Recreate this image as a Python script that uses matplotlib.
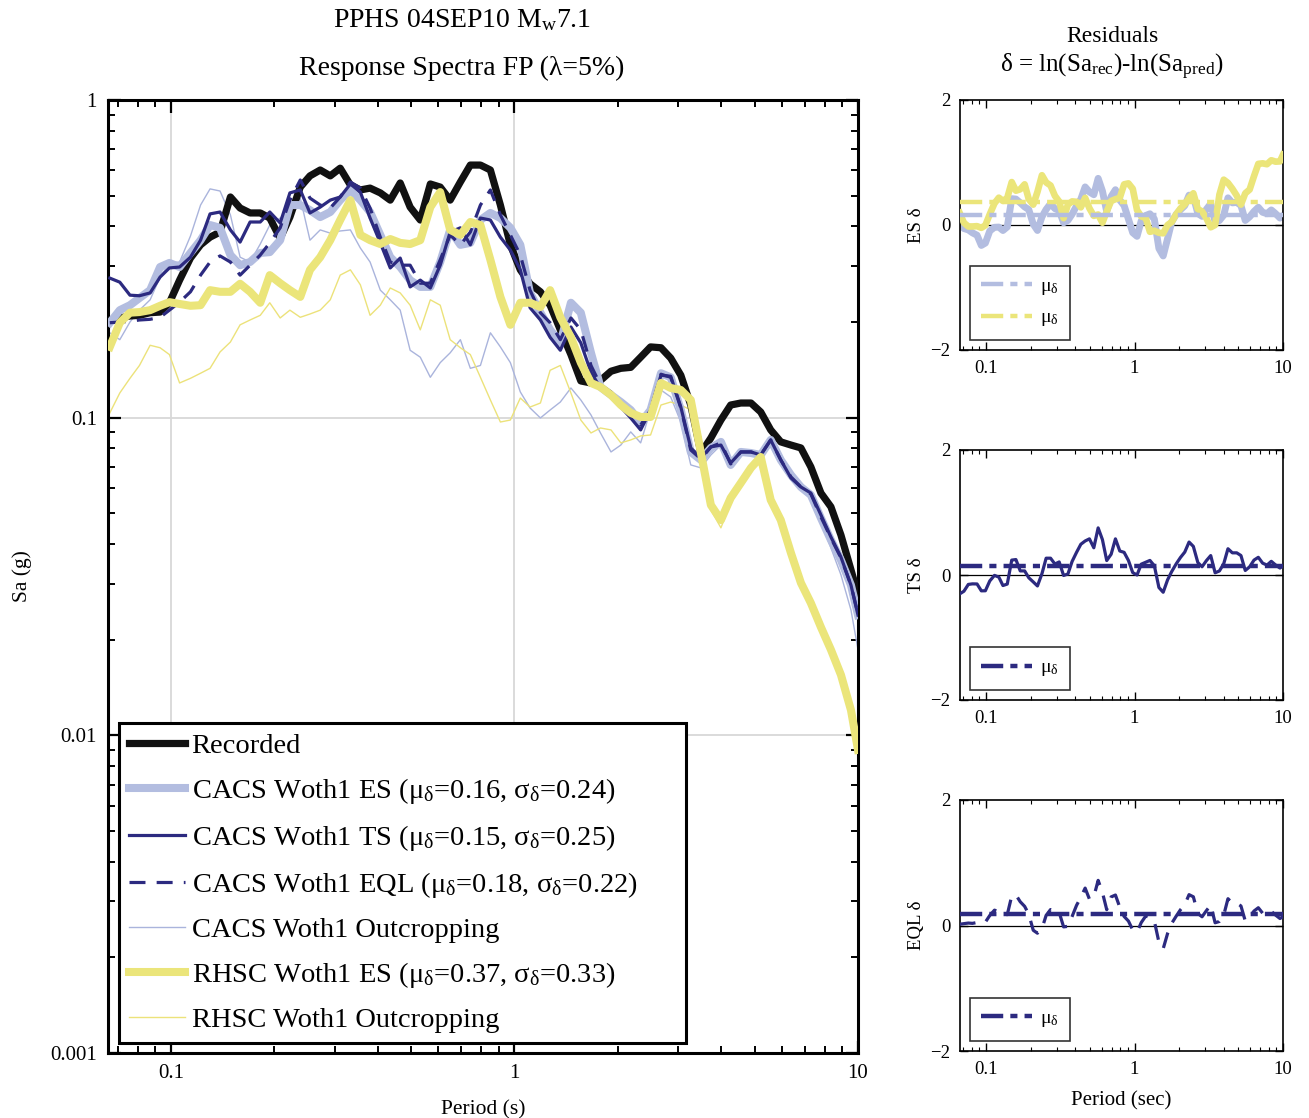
import numpy as np
import matplotlib
matplotlib.use("Agg")
import matplotlib.pyplot as plt
from matplotlib.ticker import NullFormatter, LogLocator

plt.rcParams['font.family'] = ['Liberation Serif', 'DejaVu Serif']
plt.rcParams['mathtext.fontset'] = 'custom'
plt.rcParams['mathtext.rm'] = 'Liberation Serif'
plt.rcParams['mathtext.it'] = 'Liberation Serif'
plt.rcParams['mathtext.bf'] = 'Liberation Serif:bold'
plt.rcParams['axes.unicode_minus'] = True

# ---------------- data ----------------
period = [0.0664, 0.071, 0.076, 0.081, 0.087, 0.093, 0.099, 0.106, 0.114, 0.122,
          0.130, 0.139, 0.149, 0.159, 0.170, 0.182, 0.194, 0.208, 0.222, 0.238,
          0.254, 0.272, 0.291, 0.311, 0.333, 0.356, 0.380, 0.407, 0.435, 0.465,
          0.497, 0.532, 0.569, 0.608, 0.650, 0.696, 0.744, 0.796, 0.851, 0.910,
          0.973, 1.04, 1.11, 1.19, 1.27, 1.36, 1.46, 1.56, 1.67, 1.78,
          1.91, 2.04, 2.18, 2.33, 2.49, 2.67, 2.85, 3.05, 3.26, 3.49,
          3.73, 3.99, 4.26, 4.56, 4.88, 5.21, 5.57, 5.96, 6.38, 6.82,
          7.29, 7.80, 8.34, 8.92, 9.54, 10.0]

recorded = [0.203, 0.206, 0.209, 0.210, 0.214, 0.215, 0.230, 0.271, 0.318, 0.350,
            0.370, 0.384, 0.495, 0.457, 0.441, 0.441, 0.425, 0.367, 0.428, 0.532,
            0.577, 0.602, 0.577, 0.610, 0.540, 0.521, 0.528, 0.510, 0.484, 0.548,
            0.460, 0.419, 0.544, 0.532, 0.484, 0.552, 0.624, 0.624, 0.602, 0.467,
            0.350, 0.292, 0.264, 0.249, 0.226, 0.189, 0.158, 0.1305, 0.1286, 0.131,
            0.140, 0.143, 0.144, 0.155, 0.167, 0.166, 0.154, 0.136, 0.1096, 0.0774,
            0.0863, 0.0983, 0.1096, 0.1112, 0.1112, 0.1042, 0.0915, 0.0839, 0.0820, 0.0803,
            0.0700, 0.0579, 0.0524, 0.0427, 0.0332, 0.0277]

cacs_es = [0.199, 0.218, 0.226, 0.238, 0.252, 0.298, 0.307, 0.298, 0.330, 0.362,
           0.404, 0.396, 0.325, 0.302, 0.309, 0.330, 0.332, 0.362, 0.467, 0.467,
           0.450, 0.428, 0.444, 0.484, 0.521, 0.484, 0.444, 0.376, 0.320, 0.298,
           0.271, 0.258, 0.258, 0.309, 0.390, 0.350, 0.355, 0.419, 0.441, 0.425,
           0.396, 0.350, 0.247, 0.214, 0.189, 0.172, 0.230, 0.214, 0.160, 0.1249,
           0.1179, 0.1120, 0.1057, 0.0962, 0.1057, 0.138, 0.134, 0.1057, 0.0780, 0.0736,
           0.0803, 0.0839, 0.0710, 0.0780, 0.0774, 0.0763, 0.0851, 0.0736, 0.0660, 0.0605,
           0.0571, 0.0483, 0.0412, 0.0356, 0.0297, 0.0239]

cacs_ts = [0.275, 0.267, 0.243, 0.242, 0.247, 0.277, 0.296, 0.298, 0.320, 0.362,
           0.438, 0.444, 0.390, 0.357, 0.413, 0.413, 0.444, 0.410, 0.510, 0.521,
           0.441, 0.460, 0.484, 0.495, 0.544, 0.513, 0.425, 0.355, 0.296, 0.318,
           0.258, 0.271, 0.256, 0.302, 0.384, 0.396, 0.350, 0.425, 0.419, 0.370,
           0.337, 0.292, 0.222, 0.203, 0.179, 0.163, 0.193, 0.172, 0.139, 0.1240,
           0.1170, 0.1080, 0.0998, 0.0915, 0.1057, 0.136, 0.135, 0.1080, 0.0803, 0.0747,
           0.0809, 0.0820, 0.0720, 0.0780, 0.0780, 0.0763, 0.0851, 0.0736, 0.0646, 0.0605,
           0.0579, 0.0494, 0.0421, 0.0364, 0.0297, 0.0239]

cacs_eql = [0.199, 0.200, 0.201, 0.203, 0.204, 0.207, 0.218, 0.231, 0.249, 0.281,
            0.309, 0.323, 0.309, 0.281, 0.302, 0.325, 0.355, 0.396, 0.484, 0.560,
            0.491, 0.467, 0.457, 0.495, 0.552, 0.528, 0.457, 0.370, 0.309, 0.302,
            0.302, 0.265, 0.265, 0.314, 0.376, 0.350, 0.384, 0.467, 0.521, 0.435,
            0.376, 0.325, 0.252, 0.214, 0.199, 0.176, 0.206, 0.189, 0.146, 0.1267,
            0.1205, 0.1112, 0.1035, 0.0948, 0.1057, 0.137, 0.134, 0.1073, 0.0791, 0.0741,
            0.0809, 0.0833, 0.0715, 0.0780, 0.0780, 0.0763, 0.0851, 0.0736, 0.0651, 0.0605,
            0.0575, 0.0487, 0.0418, 0.0362, 0.0297, 0.0241]

cacs_outcrop = [0.185, 0.176, 0.200, 0.218, 0.235, 0.277, 0.307, 0.309, 0.373, 0.467,
                0.525, 0.517, 0.435, 0.320, 0.309, 0.352, 0.404, 0.425, 0.450, 0.491,
                0.362, 0.390, 0.381, 0.387, 0.390, 0.342, 0.309, 0.252, 0.235, 0.218,
                0.163, 0.155, 0.134, 0.149, 0.160, 0.176, 0.143, 0.146, 0.185, 0.167,
                0.149, 0.1205, 0.1073, 0.0998, 0.1057, 0.1120, 0.1240, 0.1137, 0.1020, 0.0895,
                0.0780, 0.0820, 0.0902, 0.0833, 0.1057, 0.1222, 0.1162, 0.0969, 0.0710, 0.0695,
                0.0763, 0.0820, 0.0695, 0.0763, 0.0763, 0.0747, 0.0839, 0.0710, 0.0637, 0.0592,
                0.0559, 0.0469, 0.0389, 0.0320, 0.0248, 0.0186]

rhsc_es = [0.167, 0.199, 0.214, 0.215, 0.218, 0.225, 0.231, 0.228, 0.225, 0.226,
           0.252, 0.249, 0.249, 0.264, 0.249, 0.230, 0.281, 0.265, 0.252, 0.240,
           0.292, 0.320, 0.362, 0.419, 0.484, 0.376, 0.362, 0.352, 0.365, 0.355,
           0.352, 0.362, 0.460, 0.513, 0.390, 0.376, 0.413, 0.404, 0.314, 0.240,
           0.196, 0.230, 0.230, 0.223, 0.252, 0.207, 0.179, 0.149, 0.1286, 0.1249,
           0.1179, 0.1096, 0.1035, 0.1005, 0.1005, 0.1286, 0.1240, 0.1222, 0.1137, 0.0774,
           0.0531, 0.0476, 0.0559, 0.0623, 0.0695, 0.0752, 0.0551, 0.0476, 0.0375, 0.0302,
           0.0261, 0.0219, 0.0186, 0.0155, 0.0120, 0.0090]

rhsc_outcrop = [0.1035, 0.1196, 0.133, 0.146, 0.169, 0.166, 0.158, 0.1286, 0.133, 0.138,
                0.143, 0.161, 0.173, 0.196, 0.203, 0.210, 0.230, 0.206, 0.218, 0.207,
                0.212, 0.218, 0.235, 0.281, 0.292, 0.262, 0.210, 0.226, 0.256, 0.247,
                0.226, 0.189, 0.235, 0.226, 0.176, 0.166, 0.158, 0.134, 0.1137, 0.0969,
                0.0983, 0.1153, 0.1080, 0.1112, 0.141, 0.146, 0.1196, 0.0983, 0.0895, 0.0928,
                0.0915, 0.0833, 0.0851, 0.0876, 0.0882, 0.1096, 0.1120, 0.1096, 0.1057, 0.0747,
                0.0512, 0.0450, 0.0539, 0.0605, 0.0685, 0.0736, 0.0543, 0.0469, 0.0370, 0.0297,
                0.0257, 0.0218, 0.0183, 0.0152, 0.0119, 0.0087]

mu_cacs_es, sig_cacs_es = 0.16, 0.24
mu_cacs_ts, sig_cacs_ts = 0.15, 0.25
mu_cacs_eql, sig_cacs_eql = 0.18, 0.22
mu_rhsc_es, sig_rhsc_es = 0.37, 0.33

main_yticks = [0.001, 0.01, 0.1, 1]
main_yticklabels = ['0.001', '0.01', '0.1', '1']
xticks = [0.1, 1, 10]
xticklabels = ['0.1', '1', '10']
res_yticks = [-2, 0, 2]
res_yticklabels = ['\u22122', '0', '2']

# ---------------- styles ----------------
C_BLACK = '#111111'
C_LBLUE = '#b3bde0'
C_NAVY = '#2c2a80'
C_YELLOW = '#ebe57a'
C_THINBLUE = '#aab4dc'
C_THINYEL = '#ece27a'

T = np.array(period)
rec = np.array(recorded)

fig = plt.figure(figsize=(13.09, 11.18), dpi=100)

W, H = 1309.0, 1118.0
def ax_rect(x0, y0, x1, y1):
    return [x0 / W, 1 - y1 / H, (x1 - x0) / W, (y1 - y0) / H]

ax = fig.add_axes(ax_rect(108, 100, 858, 1053))
ax.set_xscale('log')
ax.set_yscale('log')
ax.set_xlim(0.0656, 10.0)
ax.set_ylim(0.001, 1)

dash_eql = (0, (5, 3.5))
ax.plot(T, rec, color=C_BLACK, lw=5.2, label='Recorded', zorder=3)
ax.plot(T, cacs_es, color=C_LBLUE, lw=5.8,
        label='CACS Woth1 ES (\u03bc$_\\delta$=%.2f, \u03c3$_\\delta$=%.2f)' % (mu_cacs_es, sig_cacs_es), zorder=4)
ax.plot(T, cacs_ts, color=C_NAVY, lw=2.3,
        label='CACS Woth1 TS (\u03bc$_\\delta$=%.2f, \u03c3$_\\delta$=%.2f)' % (mu_cacs_ts, sig_cacs_ts), zorder=5)
ax.plot(T, cacs_eql, color=C_NAVY, lw=2.3, ls=dash_eql,
        label='CACS Woth1 EQL (\u03bc$_\\delta$=%.2f, \u03c3$_\\delta$=%.2f)' % (mu_cacs_eql, sig_cacs_eql), zorder=5)
ax.plot(T, cacs_outcrop, color=C_THINBLUE, lw=1.0, label='CACS Woth1 Outcropping', zorder=2)
ax.plot(T, rhsc_es, color=C_YELLOW, lw=5.8,
        label='RHSC Woth1 ES (\u03bc$_\\delta$=%.2f, \u03c3$_\\delta$=%.2f)' % (mu_rhsc_es, sig_rhsc_es), zorder=6)
ax.plot(T, rhsc_outcrop, color=C_THINYEL, lw=1.0, label='RHSC Woth1 Outcropping', zorder=2)

ax.set_xticks(xticks)
ax.set_xticklabels(xticklabels)
ax.set_yticks(main_yticks)
ax.set_yticklabels(main_yticklabels)
ax.xaxis.set_minor_locator(LogLocator(base=10, subs=np.arange(2, 10)))
ax.yaxis.set_minor_locator(LogLocator(base=10, subs=np.arange(2, 10)))
ax.xaxis.set_minor_formatter(NullFormatter())
ax.yaxis.set_minor_formatter(NullFormatter())
ax.tick_params(which='both', direction='in', top=True, right=True, labelsize=15, colors='black')
ax.tick_params(which='major', length=9, width=1.6, pad=8)
ax.tick_params(which='minor', length=5, width=1.4)
ax.grid(True, which='major', color='#d8d8d8', lw=1.3, zorder=0)
ax.set_axisbelow(True)
for s in ax.spines.values():
    s.set_linewidth(2.2)
ax.set_xlabel('Period (s)', fontsize=15.5, labelpad=12)
ax.set_ylabel('Sa (g)', fontsize=15.5, labelpad=13)

leg = ax.legend(loc='lower left', bbox_to_anchor=(0.0147, 0.0105, 0.756, 0.3),
                mode='expand', borderaxespad=0,
                fontsize=20.5, frameon=True, fancybox=False, edgecolor='black',
                handlelength=1.95, handletextpad=0.25, labelspacing=0.6,
                borderpad=0.35)
leg.get_frame().set_linewidth(2.2)
leg.get_frame().set_alpha(1)

fig.text(0.353, 1 - 20 / H, 'PPHS 04SEP10 M$_\\mathregular{w}$7.1', ha='center', va='center', fontsize=20)
fig.text(0.353, 1 - 68 / H, 'Response Spectra FP (\u03bb=5%)', ha='center', va='center', fontsize=20)

# ---------------- residual panels ----------------
res_es = np.log(rec) - np.log(np.array(cacs_es))
res_rhsc = np.log(rec) - np.log(np.array(rhsc_es))
res_ts = np.log(rec) - np.log(np.array(cacs_ts))
res_eql = np.log(rec) - np.log(np.array(cacs_eql))

panels = [(100, 350, 'ES \u03b4'), (450, 700, 'TS \u03b4'), (800, 1051, 'EQL \u03b4')]
raxes = []
for (y0, y1, lab) in panels:
    a = fig.add_axes(ax_rect(960, y0, 1283, y1))
    a.set_xscale('log')
    a.set_xlim(0.0668, 10.0)
    a.set_ylim(-2, 2)
    a.set_yticks(res_yticks)
    a.set_yticklabels(res_yticklabels)
    a.set_xticks(xticks)
    a.set_xticklabels(xticklabels)
    a.xaxis.set_minor_locator(LogLocator(base=10, subs=np.arange(2, 10)))
    a.xaxis.set_minor_formatter(NullFormatter())
    a.tick_params(which='both', direction='in', top=True, right=True, labelsize=13.5)
    a.tick_params(which='major', length=6, width=1.0, pad=7)
    a.tick_params(which='minor', length=3, width=0.8)
    for s in a.spines.values():
        s.set_linewidth(1.2)
    a.axhline(0, color='black', lw=0.9, zorder=1)
    a.set_ylabel(lab, fontsize=13.5, labelpad=4)
    raxes.append(a)

dashdot = (0, (5, 1.6, 1.6, 1.6))
a1, a2, a3 = raxes
a1.plot(T, res_es, color=C_LBLUE, lw=5.0, zorder=2)
a1.plot(T, res_rhsc, color=C_YELLOW, lw=4.8, zorder=3)
a1.axhline(mu_cacs_es, color=C_LBLUE, lw=3.2, ls=dashdot, zorder=4, label='\u03bc$_\\delta$')
a1.axhline(mu_rhsc_es, color=C_YELLOW, lw=3.2, ls=dashdot, zorder=4, label='\u03bc$_\\delta$')

a2.plot(T, res_ts, color=C_NAVY, lw=2.3, zorder=3)
a2.axhline(mu_cacs_ts, color=C_NAVY, lw=3.2, ls=dashdot, zorder=4, label='\u03bc$_\\delta$')

a3.plot(T, res_eql, color=C_NAVY, lw=2.3, ls=dash_eql, zorder=3)
a3.axhline(mu_cacs_eql, color=C_NAVY, lw=3.2, ls=dashdot, zorder=4, label='\u03bc$_\\delta$')

for a in raxes:
    lg = a.legend(loc='lower left', bbox_to_anchor=(0.03, 0.04), borderaxespad=0,
                  fontsize=14, frameon=True, fancybox=False, edgecolor='black',
                  handlelength=2.6, handletextpad=0.4, labelspacing=0.6, borderpad=0.6)
    lg.get_frame().set_linewidth(1.2)

a3.set_xlabel('Period (sec)', fontsize=15, labelpad=10)

fig.text(1112 / W, 1 - 37 / H, 'Residuals', ha='center', va='center', fontsize=17)
fig.text(1112 / W, 1 - 67 / H, '\u03b4 = ln(Sa$_\\mathregular{rec}$)-ln(Sa$_\\mathregular{pred}$)',
         ha='center', va='center', fontsize=18)

fig.savefig('out.png', dpi=100)
